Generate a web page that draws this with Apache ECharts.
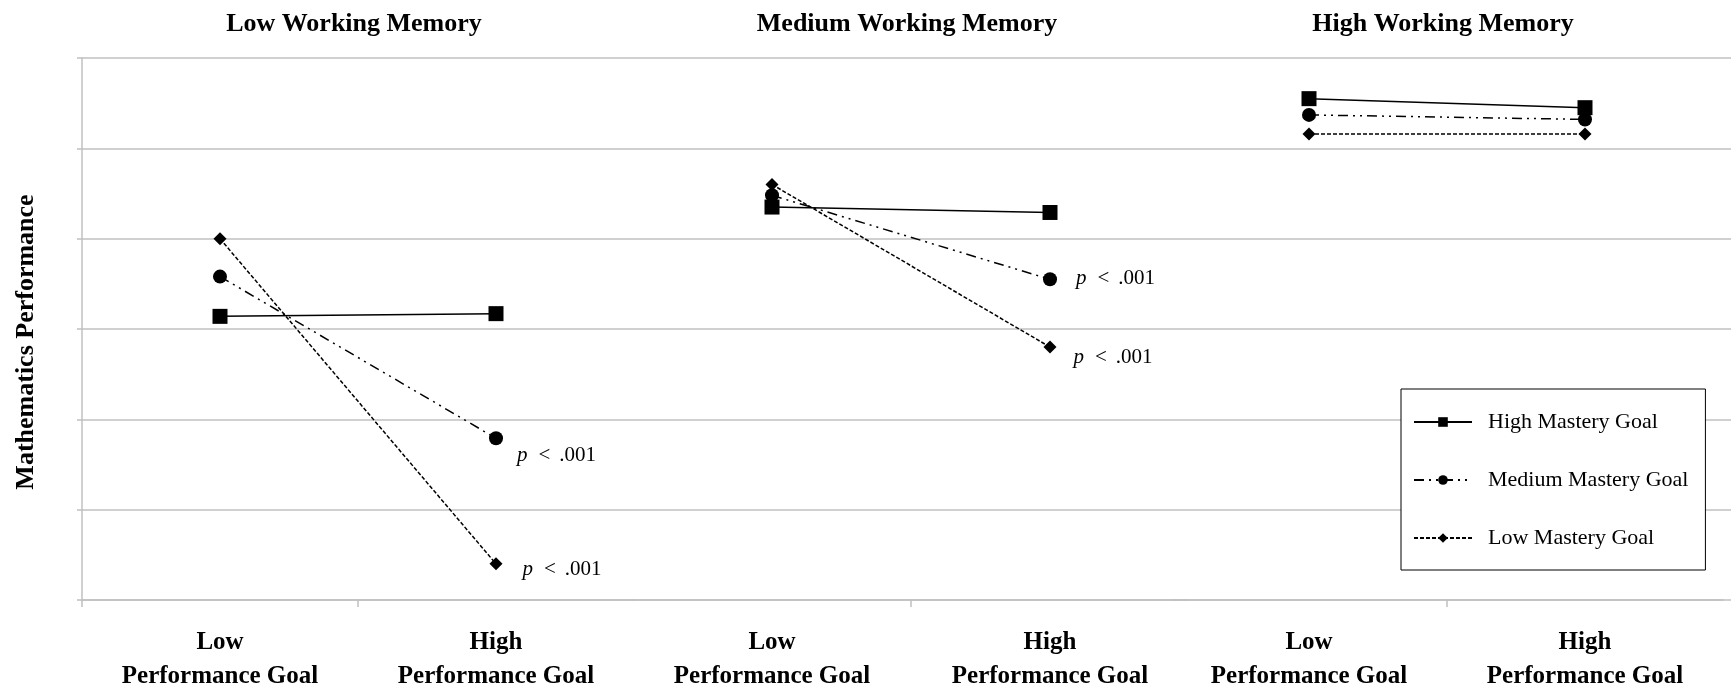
<!DOCTYPE html>
<html>
<head>
<meta charset="utf-8">
<script src="https://cdn.jsdelivr.net/npm/echarts@6/dist/echarts.min.js"></script>
<style>
  html, body { margin: 0; padding: 0; background: #fff; }
  #chart { width: 1731px; height: 692px; }
</style>
</head>
<body>
<div id="chart"></div>
<script>
// ---- data ----
const panelTitles = ['Low Working Memory', 'Medium Working Memory', 'High Working Memory'];
const categories = ['Low\nPerformance Goal', 'High\nPerformance Goal'];
const seriesNames = ['High Mastery Goal', 'Medium Mastery Goal', 'Low Mastery Goal'];
// one pair per working-memory panel: [low performance goal, high performance goal]
const highMastery = [[3.14, 3.17], [4.35, 4.29], [5.55, 5.45]];
const mediumMastery = [[3.58, 1.79], [4.48, 3.55], [5.37, 5.32]];
const lowMastery = [[4.00, 0.40], [4.60, 2.80], [5.16, 5.16]];
// simple-slope significance, noted beside the high-performance-goal point
const highMasteryNote = [null, null, null];
const mediumMasteryNote = ['p < .001', 'p < .001', null];
const lowMasteryNote = ['p < .001', 'p < .001', null];
const yMin = 0, yMax = 6, yStep = 1;

// ---- styling ----
const FONT = "'Liberation Serif', 'Times New Roman', serif";
const INK = '#000';
const RULE = '#c0c0c0';
const PLOT_TOP = 58, PLOT_BOTTOM = 92;
const PANELS = [
  { left: 82, width: 552, ticks: [0, 1] },
  { left: 633, width: 556, ticks: [1] },
  { left: 1171, width: 552, ticks: [1] }
];
const TITLE_SHIFT = -9;
const MARKS = [
  { symbol: 'rect', symbolSize: 15, line: 'solid' },
  { symbol: 'circle', symbolSize: 14, line: [10, 5, 2, 5, 2, 5] },
  { symbol: 'diamond', symbolSize: 13, line: [4, 2] }
];
const NOTE_OFFSETS = [
  [null, null, null],
  [[9, 17], [14, -1], null],
  [[15, 6], [12, 10], null]
];

const seriesValues = [highMastery, mediumMastery, lowMastery];
const seriesNotes = [highMasteryNote, mediumMasteryNote, lowMasteryNote];

// "p < .001" with an italic p and the wide word spacing of the annotations
function noteFormatter(note) {
  const parts = note.split(' ');
  return '{i|' + parts[0] + '}{o|' + parts[1] + '}' + parts.slice(2).join(' ');
}

const grid = [{ left: 82, right: 0, top: PLOT_TOP, bottom: PLOT_BOTTOM, outerBoundsMode: 'none' }]
  .concat(PANELS.map(p => ({ left: p.left, width: p.width, top: PLOT_TOP, bottom: PLOT_BOTTOM, outerBoundsMode: 'none' })));

const xAxis = [{ gridIndex: 0, type: 'value', show: false, min: 0, max: 1 }];
const yAxis = [{
  gridIndex: 0, type: 'value', min: yMin, max: yMax, interval: yStep,
  axisLine: { show: true, lineStyle: { color: RULE, width: 1.5 } },
  axisTick: { show: true, length: 5, lineStyle: { color: RULE, width: 1.5 } },
  axisLabel: { show: false },
  splitLine: { show: true, lineStyle: { color: RULE, width: 1.5 } },
  name: 'Mathematics Performance', nameLocation: 'middle', nameGap: 43, nameRotate: 90,
  nameTextStyle: { fontFamily: FONT, fontWeight: 'bold', fontSize: 26, color: INK, padding: [0, 26, 0, 0] }
}];

PANELS.forEach((p, i) => {
  // category axis carrying the labels
  xAxis.push({
    gridIndex: i + 1, type: 'category', data: categories, boundaryGap: true,
    axisLine: { show: true, lineStyle: { color: RULE, width: 1.5 } },
    axisTick: { show: false },
    axisLabel: { interval: 0, fontFamily: FONT, fontWeight: 'bold', fontSize: 25, lineHeight: 34, color: INK, margin: 26 },
    splitLine: { show: false }
  });
  // companion axis marking the boundary between the two categories
  xAxis.push({
    gridIndex: i + 1, type: 'value', min: 0, max: 2, position: 'bottom',
    axisLine: { show: false }, axisLabel: { show: false }, splitLine: { show: false },
    axisTick: { show: true, length: 7, customValues: p.ticks, lineStyle: { color: RULE, width: 1.5 } }
  });
  yAxis.push({ gridIndex: i + 1, type: 'value', min: yMin, max: yMax, show: false });
});

const series = [];
PANELS.forEach((p, i) => {
  seriesNames.forEach((name, s) => {
    const m = MARKS[s];
    series.push({
      type: 'line', name: name,
      xAxisIndex: 1 + 2 * i, yAxisIndex: 1 + i,
      symbol: m.symbol, symbolSize: m.symbolSize,
      itemStyle: { color: INK },
      lineStyle: { color: INK, width: 1.5, type: m.line },
      z: 2 + s,
      emphasis: { disabled: true },
      silent: true,
      data: seriesValues[s][i].map((v, k) => {
        const note = k === 1 ? seriesNotes[s][i] : null;
        if (!note) return v;
        return {
          value: v,
          label: {
            show: true, position: 'right', offset: NOTE_OFFSETS[s][i],
            formatter: noteFormatter(note),
            fontFamily: FONT, fontSize: 21, color: INK,
            rich: {
              i: { fontFamily: FONT, fontSize: 21, fontStyle: 'italic', color: INK, padding: [0, 11, 0, 0] },
              o: { fontFamily: FONT, fontSize: 21, color: INK, padding: [0, 9, 0, 0] }
            }
          }
        };
      })
    });
  });
});

const chart = echarts.init(document.getElementById('chart'), null, { renderer: 'canvas' });
chart.setOption({
  backgroundColor: '#fff',
  animation: false,
  title: PANELS.map((p, i) => ({
    text: panelTitles[i], left: p.left + p.width / 2 + TITLE_SHIFT, top: 6, textAlign: 'center',
    textStyle: { fontFamily: FONT, fontWeight: 'bold', fontSize: 26, color: INK }
  })),
  legend: {
    data: seriesNames, orient: 'vertical', left: 1401, top: 389,
    itemWidth: 58, itemHeight: 12, itemGap: 36,
    padding: [22, 17, 21, 12],
    borderColor: INK, borderWidth: 1, backgroundColor: '#fff',
    selectedMode: false,
    textStyle: { fontFamily: FONT, fontSize: 22, color: INK, lineHeight: 20, padding: [0, 0, 0, 11] }
  },
  grid: grid,
  xAxis: xAxis,
  yAxis: yAxis,
  series: series
});
</script>
</body>
</html>
